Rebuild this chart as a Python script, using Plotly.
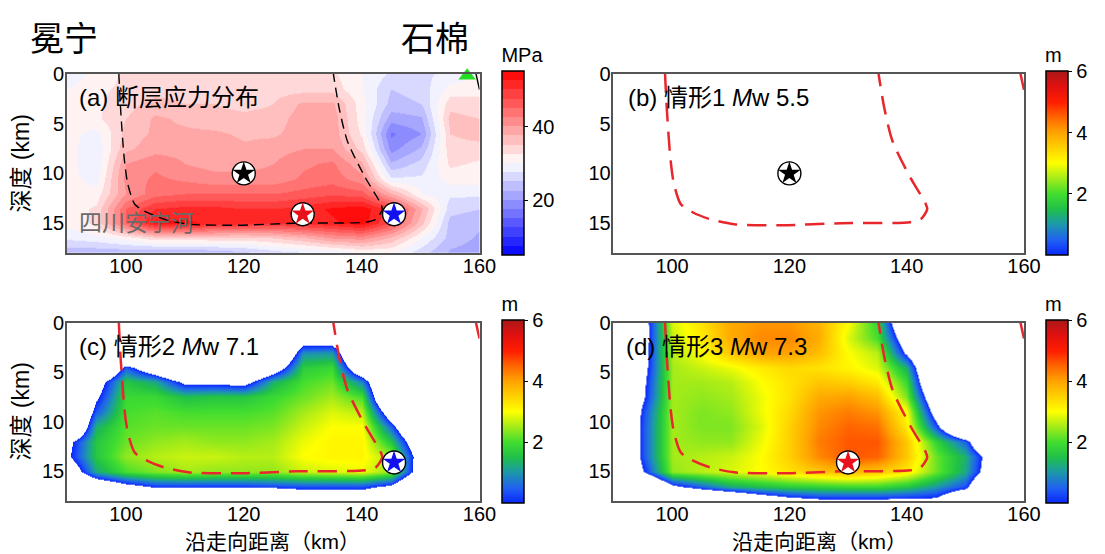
import plotly.graph_objects as go

W, H = 1105, 554

# ---------------- data ----------------
x_nodes = [90, 95, 100, 105, 110, 115, 120, 125, 130, 135, 140, 145, 150, 155, 160]
depth_nodes = [0, 1.5, 3, 4.5, 6, 7.5, 9, 10.5, 12, 13.5, 15, 16.5, 18]

# (a) fault stress (MPa)
stress_mpa = [
    [28, 31, 33, 33, 33, 33, 33, 33, 33, 33, 30, 27, 27, 28, 30],
    [30, 32, 33, 34, 34, 34, 34, 34, 34, 34, 30, 25, 26, 31, 32],
    [31, 32, 34, 36, 35, 35, 34, 35, 38, 38, 31, 24, 25, 34, 33],
    [31, 32, 35, 38, 37, 36, 36, 36, 39, 39, 31, 21, 22, 36, 35],
    [31, 29, 36, 38, 38, 38, 37, 37, 39, 39, 32, 17, 20, 35, 36],
    [31, 28, 37, 39, 39, 39, 38, 39, 40, 40, 34, 19, 23, 34, 34],
    [31, 28, 40, 42, 40, 39, 39, 40, 42, 43, 38, 23, 26, 33, 32],
    [31, 29, 41, 43, 42, 41, 41, 41, 43, 44, 41, 28, 28, 31, 31],
    [31, 31, 40, 44, 45, 45, 45, 45, 46, 47, 46, 38, 30, 28, 28],
    [31, 33, 45, 50, 51, 51, 50, 50, 51, 53, 54, 49, 38, 26, 25],
    [31, 33, 45, 53, 53, 52, 51, 50, 51, 52, 54, 47, 36, 24, 23],
    [28, 29, 31, 34, 34, 34, 34, 35, 37, 40, 41, 37, 30, 24, 22],
    [23, 23, 23, 22, 22, 23, 24, 26, 27, 28, 30, 30, 26, 22, 21],
]

# (c) scenario 2 slip (m); negative = no slip
slip_case2 = [
    [-3, -3, -3, -3, -3, -3, -3, -3, -3, -3, -3, -3, -3, -3, -3],
    [-3, -3, -3, -3, -3, -3, -3, -3, -1.0, -1.0, -3, -3, -3, -3, -3],
    [-3, -3, -3, -3, -3, -3, -3, -3, 0.9, 1.0, -3, -3, -3, -3, -3],
    [-3, -3, 0.45, -1.1, -3, -3, -3, -1.0, 1.7, 1.9, -1.6, -3, -3, -3, -3],
    [-3, -0.7, 1.6, 1.2, -0.3, -0.3, -0.5, 1.3, 2.0, 2.2, 0.8, -3, -3, -3, -3],
    [-3, -0.2, 1.9, 1.9, 1.5, 1.6, 1.6, 1.9, 2.2, 2.5, 2.0, -3, -3, -3, -3],
    [-3, 0.4, 2.0, 2.1, 2.0, 2.0, 2.0, 2.1, 2.5, 2.8, 2.6, -1.1, -3, -3, -3],
    [-3, 1.3, 2.1, 2.2, 2.2, 2.2, 2.2, 2.3, 2.7, 3.0, 3.0, 0.5, -3, -3, -3],
    [-0.4, 1.6, 2.2, 2.4, 2.5, 2.4, 2.4, 2.5, 2.9, 3.1, 3.1, 1.6, -1.5, -3, -3],
    [-0.2, 1.6, 2.4, 2.6, 2.7, 2.7, 2.6, 2.6, 3.0, 3.1, 3.1, 2.5, -0.9, -3, -3],
    [-1.2, 1.2, 2.0, 2.3, 2.5, 2.4, 2.4, 2.4, 2.7, 2.8, 2.9, 2.4, -1.0, -3, -3],
    [-3, -1.5, -0.5, 0.1, 0.1, 0.1, 0.1, 0.2, 0.3, 0.3, 0.3, -0.3, -3, -3, -3],
    [-3, -3, -3, -3, -3, -3, -3, -3, -1.2, -1.2, -1.2, -3, -3, -3, -3],
]

# (d) scenario 3 slip (m)
slip_case3 = [
    [-3, -0.7, 2.8, 3.3, 3.9, 4.1, 4.1, 3.8, 3.0, 1.8, -2.0, -3, -3, -3, -3],
    [-3, -0.7, 2.7, 3.2, 3.9, 4.2, 4.2, 3.9, 2.8, 2.0, -1.0, -3, -3, -3, -3],
    [-3, -0.6, 2.6, 3.0, 3.6, 4.0, 4.0, 3.7, 3.0, 2.6, -0.2, -3, -3, -3, -3],
    [-3, -0.5, 2.5, 2.7, 2.9, 3.2, 3.4, 3.3, 3.1, 2.8, 1.3, -3, -3, -3, -3],
    [-3, -0.3, 2.5, 2.5, 2.6, 3.0, 3.3, 3.6, 3.5, 3.2, 1.9, -2.5, -3, -3, -3],
    [-3, -0.2, 2.5, 2.4, 2.5, 2.9, 3.3, 3.9, 4.0, 3.7, 2.3, -1.5, -3, -3, -3],
    [-3, 0.2, 2.5, 2.3, 2.4, 2.9, 3.4, 4.1, 4.3, 4.1, 3.0, -0.7, -3, -3, -3],
    [-3, 0.3, 2.5, 2.3, 2.3, 2.8, 3.5, 4.2, 4.5, 4.4, 3.2, 0.3, -3, -3, -3],
    [-3, 0.3, 2.5, 2.4, 2.4, 2.9, 3.5, 4.3, 4.6, 4.6, 3.6, 1.8, 0.5, -3, -3],
    [-3, 0.3, 2.5, 2.6, 2.7, 3.0, 3.5, 4.2, 4.6, 4.5, 3.6, 2.2, 1.3, -1.0, -3],
    [-3, -0.1, 2.4, 2.6, 2.8, 3.0, 3.3, 3.6, 3.8, 3.6, 3.2, 2.2, 1.2, -1.2, -3],
    [-3, -3, -0.3, 0.5, 1.2, 1.5, 1.7, 1.8, 1.9, 1.9, 1.6, 1.0, 0.3, -3, -3],
    [-3, -3, -3, -3, -2.4, -1.3, -0.6, -0.3, -0.3, -0.3, -0.3, -0.3, -2.0, -3, -3],
]

# rupture outline (dashed)
rupture_x = [98.8, 99.1, 99.7, 100.3, 101.5, 103.5, 106.5, 110.6, 118.8, 128.8,
             140.6, 142.4, 143.5, 143.2, 140.6, 137.6, 136.2, 135.2]
rupture_depth = [0.0, 3.5, 8.4, 11.0, 13.1, 13.9, 14.6, 15.1, 15.2, 15.0,
                 14.9, 14.6, 13.6, 13.0, 10.4, 6.8, 3.5, 0.0]
edge_x = [159.4, 160.0]
edge_depth = [0.0, 1.6]

# hypocentres
hypo_black = (120, 10)
hypo_red = (130, 14.1)
hypo_blue = (145.5, 14.1)
station_tri = (157.9, 0.2)

xticks = [100, 120, 140, 160]
yticks = [0, 5, 10, 15]
stress_ticks = [20, 40]
slip_ticks = [2, 4, 6]

# ---------------- styles ----------------
LAT = "Liberation Sans, Arial, Noto Sans CJK SC"
CJK = "Noto Sans CJK SC, Liberation Sans"


def stepped_polar(zmin, zmax, step, mid):
    n = int(round((zmax - zmin) / step))
    half = (zmax - zmin) / 2.0
    cs = []
    for i in range(n):
        v = zmin + (i + 0.5) * step
        t = (v - mid) / half
        if t < 0:
            r, g, b = 255 * (1 + t), 255 * (1 + t), 255
        else:
            r, g, b = 255, 255 * (1 - t), 255 * (1 - t)
        col = f"rgb({r:.0f},{g:.0f},{b:.0f})"
        cs.append([i / n, col])
        cs.append([(i + 1) / n, col])
    return cs


stress_cs = stepped_polar(5, 55, 2.5, 30)

jet = [
    (0.00, "#0a28ff"), (0.08, "#2060f0"), (0.17, "#1c9aa8"), (0.25, "#20c048"),
    (0.33, "#40dd30"), (0.42, "#a8ec18"), (0.50, "#ffff00"), (0.58, "#ffd200"),
    (0.67, "#ffa000"), (0.75, "#ff6400"), (0.83, "#ff1e00"), (0.92, "#e01010"),
    (1.00, "#a81818"),
]
jet_cs = [[s, c] for s, c in jet]
masked_cs = [[0, "white"], [3 / 9 - 0.0005, "white"]] + [[(3 + 6 * s) / 9, c] for s, c in jet]

# panel geometry (px)
panels = {
    "a": dict(x0=68, x1=487, y0=64, y1=247),
    "b": dict(x0=623, x1=1040, y0=64, y1=247),
    "c": dict(x0=68, x1=487, y0=318, y1=500),
    "d": dict(x0=623, x1=1040, y0=318, y1=500),
}
axis_ids = {"a": ("x", "y"), "b": ("x2", "y2"), "c": ("x3", "y3"), "d": ("x4", "y4")}

fig = go.Figure()

TITLE_ROOM = 30


def cbar(xpx, p, title, tickvals):
    top = p["y0"] - TITLE_ROOM
    return dict(
        x=xpx / W, xanchor="left", y=1 - top / H, yanchor="top",
        len=p["y1"] - top - 2, lenmode="pixels", thickness=22, thicknessmode="pixels",
        outlinewidth=1.5, outlinecolor="black", tickvals=tickvals, ticks="outside",
        ticklen=4, tickcolor="black", tickfont=dict(family=LAT, size=20, color="black"),
        title=dict(text=title, side="top", font=dict(family=LAT, size=20, color="black")),
        xpad=0, ypad=0,
    )


# (a) stress
fig.add_trace(go.Heatmap(
    x=x_nodes, y=depth_nodes, z=stress_mpa, zmin=5, zmax=55, colorscale=stress_cs,
    zsmooth="best", colorbar=cbar(510, panels["a"], "MPa", stress_ticks),
    xaxis="x", yaxis="y", hoverinfo="skip"))

# (b) colorbar only
fig.add_trace(go.Heatmap(
    x=[300], y=[300], z=[[0]], zmin=0, zmax=6, colorscale=jet_cs,
    colorbar=cbar(1062, panels["b"], "m", slip_ticks), xaxis="x2", yaxis="y2", hoverinfo="skip"))

# (c)
fig.add_trace(go.Heatmap(
    x=x_nodes, y=depth_nodes, z=slip_case2, zmin=-3, zmax=6, colorscale=masked_cs,
    zsmooth="best", showscale=False, xaxis="x3", yaxis="y3", hoverinfo="skip"))
fig.add_trace(go.Heatmap(
    x=[300], y=[300], z=[[0]], zmin=0, zmax=6, colorscale=jet_cs,
    colorbar=cbar(510, panels["c"], "m", slip_ticks), xaxis="x3", yaxis="y3", hoverinfo="skip"))

# (d)
fig.add_trace(go.Heatmap(
    x=x_nodes, y=depth_nodes, z=slip_case3, zmin=-3, zmax=6, colorscale=masked_cs,
    zsmooth="best", showscale=False, xaxis="x4", yaxis="y4", hoverinfo="skip"))
fig.add_trace(go.Heatmap(
    x=[300], y=[300], z=[[0]], zmin=0, zmax=6, colorscale=jet_cs,
    colorbar=cbar(1062, panels["d"], "m", slip_ticks), xaxis="x4", yaxis="y4", hoverinfo="skip"))

# rupture outlines
for key in ["a", "b", "c", "d"]:
    xa, ya = axis_ids[key]
    if key == "a":
        ln = dict(color="black", width=1.4, dash="10px,6px")
    else:
        ln = dict(color="#e8262b", width=2.5, dash="19px,10px")
    fig.add_trace(go.Scatter(x=rupture_x, y=rupture_depth, mode="lines",
                             line=dict(shape="spline", smoothing=0.7, **ln),
                             xaxis=xa, yaxis=ya, hoverinfo="skip", showlegend=False))
    fig.add_trace(go.Scatter(x=edge_x, y=edge_depth, mode="lines",
                             line=dict(color=ln["color"], width=ln["width"]),
                             xaxis=xa, yaxis=ya, hoverinfo="skip", showlegend=False))


def add_star(pt, color, xa, ya):
    fig.add_trace(go.Scatter(x=[pt[0]], y=[pt[1]], mode="markers",
                             marker=dict(symbol="circle", size=23, color="white",
                                         line=dict(color="black", width=1.4)),
                             xaxis=xa, yaxis=ya, hoverinfo="skip", showlegend=False))
    fig.add_trace(go.Scatter(x=[pt[0]], y=[pt[1]], mode="markers",
                             marker=dict(symbol="star", size=17, color=color, line=dict(width=0)),
                             xaxis=xa, yaxis=ya, hoverinfo="skip", showlegend=False))


add_star(hypo_black, "black", "x", "y")
add_star(hypo_red, "#e8101a", "x", "y")
add_star(hypo_blue, "#1010f0", "x", "y")
add_star(hypo_black, "black", "x2", "y2")
add_star(hypo_blue, "#1010f0", "x3", "y3")
add_star(hypo_red, "#e8101a", "x4", "y4")

fig.add_trace(go.Scatter(x=[station_tri[0]], y=[station_tri[1]], mode="markers",
                         marker=dict(symbol="triangle-up", size=15, color="#22dd22"),
                         xaxis="x", yaxis="y", hoverinfo="skip", showlegend=False, cliponaxis=False))

layout = dict(
    width=W, height=H, margin=dict(l=0, r=0, t=0, b=0),
    paper_bgcolor="white", plot_bgcolor="white", showlegend=False,
    font=dict(family=LAT, size=20, color="black"),
)
for key, (xa, ya) in axis_ids.items():
    p = panels[key]
    xname = "xaxis" if xa == "x" else "xaxis" + xa[1:]
    yname = "yaxis" if ya == "y" else "yaxis" + ya[1:]
    layout[xname] = dict(
        domain=[p["x0"] / W, p["x1"] / W], range=[90, 160], anchor=ya,
        tickvals=xticks, ticks="", showgrid=False, zeroline=False,
        showline=True, mirror=True, linecolor="#555555", linewidth=1.5,
        ticklabelstandoff=-6,
        tickfont=dict(family=LAT, size=20, color="black"))
    layout[yname] = dict(
        domain=[1 - p["y1"] / H, 1 - p["y0"] / H], range=[18, 0], anchor=xa,
        tickvals=yticks, ticks="", showgrid=False, zeroline=False,
        showline=True, mirror=True, linecolor="#555555", linewidth=1.5,
        ticklabelstandoff=-3,
        tickfont=dict(family=LAT, size=20, color="black"))

ann = []


def txt(text, xpx, ypx, size, family=LAT, color="black", xanchor="left", angle=0):
    ann.append(dict(text=text, x=xpx / W, y=1 - ypx / H, xref="paper", yref="paper",
                    xanchor=xanchor, yanchor="middle", showarrow=False, textangle=angle,
                    font=dict(family=family, size=size, color=color)))


txt("(a) 断层应力分布", 78, 88, 24)
txt("(b) 情形1 <i>M</i>w 5.5", 636, 88, 24)
txt("(c) 情形2 <i>M</i>w 7.1", 78, 342, 24)
txt("(d) 情形3 <i>M</i>w 7.3", 634, 342, 24)
txt("四川安宁河", 78, 216, 23, color="#6a6a6a")
txt("冕宁", 65, 26, 34, family=CJK, xanchor="center")
txt("石棉", 442, 26, 34, family=CJK, xanchor="center")
txt("沿走向距离（km）", 277, 541, 21, xanchor="center")
txt("沿走向距离（km）", 832, 541, 21, xanchor="center")
txt("深度 (km)", 21, 156, 23, xanchor="center", angle=-90)
txt("深度 (km)", 21, 409, 23, xanchor="center", angle=-90)

layout["annotations"] = ann
fig.update_layout(**layout)
fig.write_html("out.html")
